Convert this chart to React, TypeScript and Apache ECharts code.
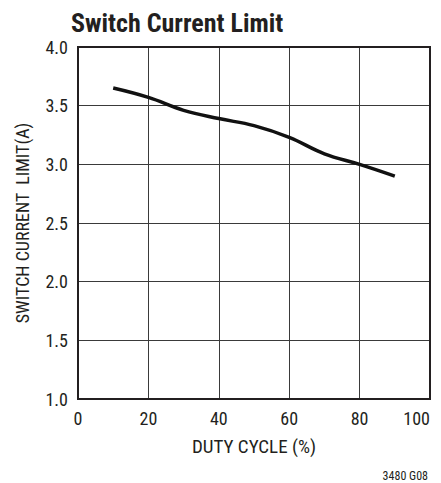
import React, { useEffect, useRef } from "react";
import * as echarts from "echarts";

const dutyCycle = [10, 20, 30, 40, 50, 60, 70, 80, 90];
const currentLimit = [3.65, 3.57, 3.46, 3.39, 3.33, 3.23, 3.09, 3.0, 2.9];
const xTicks = [0, 20, 40, 60, 80, 100];
const yTicks = [1.0, 1.5, 2.0, 2.5, 3.0, 3.5, 4.0];

const FONT = "'Liberation Sans Narrow', 'Arial Narrow', 'Roboto Condensed', 'Liberation Sans', sans-serif";

export default function App() {
  const ref = useRef<HTMLDivElement>(null);
  useEffect(() => {
    if (!ref.current) return;
    const chart = echarts.init(ref.current, null, { renderer: "svg" });
    chart.setOption({
      animation: false,
      backgroundColor: "#ffffff",
      title: {
        text: "Switch Current Limit",
        left: 66,
        top: 5,
        textStyle: { fontFamily: FONT, fontWeight: "bold", fontSize: 26, color: "#231f20" },
      },
      graphic: [
        {
          type: "text",
          x: 428,
          y: 476,
          style: {
            text: "3480 G08",
            fontFamily: FONT,
            fontSize: 12,
            fill: "#231f20",
            align: "right",
            verticalAlign: "middle",
          },
        },
      ],
      grid: {
        left: 78,
        right: 11,
        top: 47,
        bottom: 84,
        show: true,
        borderColor: "#231f20",
        borderWidth: 2,
        z: 3,
      },
      xAxis: {
        type: "value",
        min: xTicks[0],
        max: xTicks[xTicks.length - 1],
        interval: 20,
        name: "DUTY CYCLE (%)",
        nameLocation: "middle",
        nameGap: 38,
        nameTextStyle: { fontFamily: FONT, fontSize: 19, color: "#231f20" },
        axisLine: { show: false },
        axisTick: { show: false },
        axisLabel: {
          fontFamily: FONT,
          fontSize: 18,
          color: "#231f20",
          margin: 10,
          alignMaxLabel: "right",
        },
        splitLine: { show: true, lineStyle: { color: "#3a3a3a", width: 1 } },
      },
      yAxis: {
        type: "value",
        min: yTicks[0],
        max: yTicks[yTicks.length - 1],
        interval: 0.5,
        name: "SWITCH CURRENT  LIMIT(A)",
        nameLocation: "middle",
        nameGap: 47,
        nameTextStyle: { fontFamily: FONT, fontSize: 18, color: "#231f20" },
        axisLine: { show: false },
        axisTick: { show: false },
        axisLabel: {
          fontFamily: FONT,
          fontSize: 18,
          color: "#231f20",
          margin: 10,
          formatter: (v: number) => v.toFixed(1),
        },
        splitLine: { show: true, lineStyle: { color: "#3a3a3a", width: 1 } },
      },
      series: [
        {
          type: "line",
          data: dutyCycle.map((d, i) => [d, currentLimit[i]]),
          smooth: 0.4,
          showSymbol: false,
          lineStyle: { color: "#111111", width: 3.5 },
          z: 5,
        },
      ],
    });
    return () => chart.dispose();
  }, []);
  return (
    <div
      ref={ref}
      style={{ position: "absolute", left: 0, top: 0, width: 441, height: 483 }}
    />
  );
}
